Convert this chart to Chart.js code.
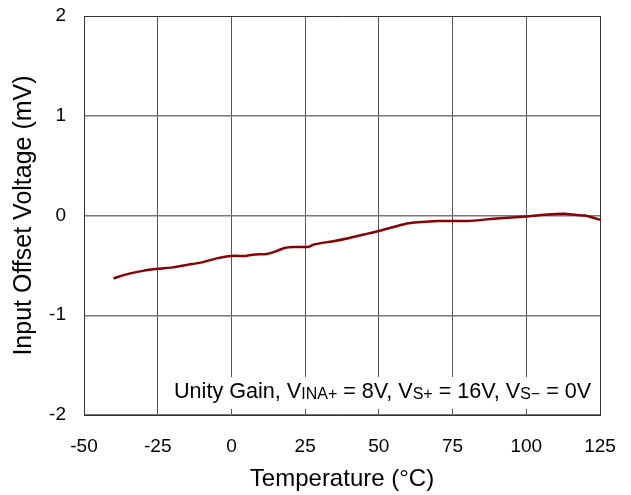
<!DOCTYPE html>
<html>
<head>
<meta charset="utf-8">
<script src="https://cdn.jsdelivr.net/npm/chart.js@4/dist/chart.umd.min.js"></script>
<style>
html,body{margin:0;padding:0;background:#fff;}
#wrap{width:631px;height:495px;position:relative;}
</style>
</head>
<body>
<div id="wrap"><canvas id="c" width="631" height="495"></canvas></div>
<script>
// Data
const temperatures = [-40, -35, -30, -25, -20, -15, -10, -5, 0, 5, 8, 12, 15, 18, 21, 26, 28, 35, 40, 45, 50, 55, 60, 70, 80, 90, 100, 105, 110, 113, 117, 120, 123, 125];
const offsetVoltage = [-0.63, -0.585, -0.555, -0.535, -0.52, -0.495, -0.47, -0.43, -0.405, -0.405, -0.39, -0.385, -0.36, -0.325, -0.315, -0.315, -0.29, -0.255, -0.225, -0.19, -0.155, -0.115, -0.078, -0.055, -0.055, -0.03, -0.01, 0.005, 0.015, 0.017, 0.005, 0.0, -0.025, -0.043];
const xTickValues = [-50, -25, 0, 25, 50, 75, 100, 125];
const yTickValues = [-2, -1, 0, 1, 2];
const xTitle = 'Temperature (°C)';
const yTitle = 'Input Offset Voltage (mV)';
const noteParts = [
  ['Unity Gain, V', false], ['INA+', true], [' = 8V, V', false], ['S+', true],
  [' = 16V, V', false], ['S\u2212', true], [' = 0V', false]
];

const FONT = '"Liberation Sans", Arial, sans-serif';

const notePlugin = {
  id: 'note',
  afterDatasetsDraw(chart) {
    const {ctx, chartArea: a} = chart;
    ctx.save();
    ctx.fillStyle = '#fff';
    ctx.fillRect(a.left + 82, a.bottom - 38, a.right - a.left - 85, 32);
    ctx.fillStyle = '#000';
    ctx.textBaseline = 'alphabetic';
    ctx.textAlign = 'left';
    let x = a.left + 90;
    const base = a.bottom - 17.5;
    for (const [txt, sub] of noteParts) {
      ctx.font = (sub ? '16px ' : '21.6px ') + FONT;
      ctx.fillText(txt, x, sub ? base + 1 : base);
      x += ctx.measureText(txt).width;
    }
    ctx.restore();
  }
};

new Chart(document.getElementById('c'), {
  type: 'line',
  data: {
    datasets: [{
      data: temperatures.map((t, i) => ({x: t, y: offsetVoltage[i]})),
      borderColor: '#850000',
      borderWidth: 2.5,
      pointRadius: 0,
      tension: 0.2,
      fill: false
    }]
  },
  options: {
    responsive: false,
    animation: false,
    devicePixelRatio: 1,
    layout: {padding: {top: 16, right: 31, left: 0, bottom: 0}},
    plugins: {legend: {display: false}, tooltip: {enabled: false}},
    scales: {
      x: {
        type: 'linear', min: -50, max: 125,
        afterBuildTicks: s => { s.ticks = xTickValues.map(v => ({value: v})); },
        afterFit: s => { s.height = 80; s.paddingLeft = 0; s.paddingRight = 0; s.paddingTop = 0; s.paddingBottom = 0; },
        grid: {
          drawTicks: false,
          color: c => (c.tick && c.tick.value === 125) ? '#333' : '#555',
          lineWidth: 1
        },
        border: {display: true, color: '#333', width: 1},
        ticks: {color: '#000', font: {family: FONT, size: 19}, padding: 20, maxRotation: 0, autoSkip: false},
        title: {display: true, text: xTitle, color: '#000', font: {family: FONT, size: 24}, padding: {top: 0, bottom: 1}}
      },
      y: {
        type: 'linear', min: -2, max: 2,
        afterBuildTicks: s => { s.ticks = yTickValues.map(v => ({value: v})); },
        afterFit: s => { s.width = 84; s.paddingLeft = 0; s.paddingRight = 0; s.paddingTop = 0; s.paddingBottom = 0; },
        grid: {
          drawTicks: false,
          color: c => (c.tick && c.tick.value === 2) ? '#333' : '#777',
          lineWidth: c => (c.tick && c.tick.value === 2) ? 1 : 1.5
        },
        border: {display: true, color: '#333', width: 1},
        ticks: {color: '#000', font: {family: FONT, size: 19}, padding: 18},
        title: {display: true, text: yTitle, color: '#000', font: {family: FONT, size: 25}, padding: {top: 9.5, bottom: 0}}
      }
    }
  },
  plugins: [notePlugin]
});
</script>
</body>
</html>
